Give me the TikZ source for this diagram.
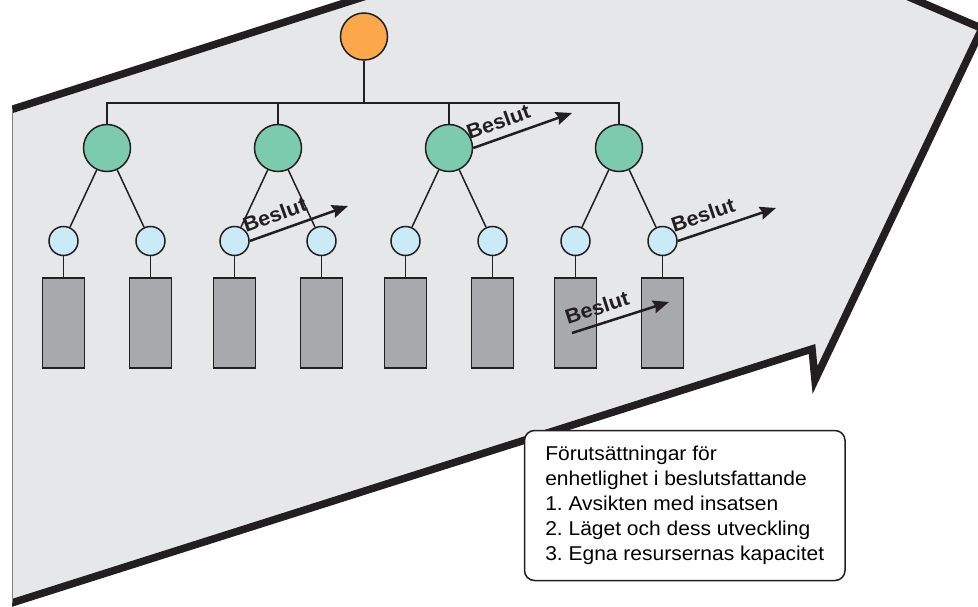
\documentclass[tikz,border=0pt]{standalone}
\usepackage{fontspec}
\setmainfont{Liberation Sans}
\newfontfamily\labelfont[FakeStretch=1.05]{Liberation Sans}
\usetikzlibrary{arrows.meta}

\definecolor{inkdark}{HTML}{231F20}
\definecolor{fieldgrey}{HTML}{E6E7E8}
\definecolor{unitgrey}{HTML}{A7A9AC}
\definecolor{toporange}{HTML}{FAA84B}
\definecolor{midgreen}{HTML}{7DCBAF}
\definecolor{lowblue}{HTML}{CBEAF8}

\tikzset{
  level/.style={circle, draw=inkdark, line width=1.5pt, inner sep=0pt},
  rootnode/.style={level, fill=toporange, minimum size=47pt},
  groupnode/.style={level, fill=midgreen, minimum size=47pt},
  subnode/.style={level, fill=lowblue, minimum size=29pt},
  unitbox/.style={rectangle, draw=inkdark, line width=1.5pt, fill=unitgrey,
                  minimum width=42pt, minimum height=90pt, inner sep=0pt},
  link/.style={draw=inkdark, line width=1.5pt},
  decision/.style={draw=inkdark, line width=2.5pt,
                   -{Stealth[length=16pt, width=13pt, inset=2pt]}},
  decisionlabel/.style={pos=0.31, sloped, above=6pt, inner sep=2pt,
                   text=inkdark, font=\labelfont\bfseries\fontsize{20.5}{20.5}\selectfont},
  infobox/.style={draw=inkdark, line width=1.5pt, fill=white, rounded corners=10pt,
                  align=left, inner xsep=14pt, inner ysep=14pt,
                  minimum width=320.5pt, minimum height=150pt, anchor=north west,
                  font=\labelfont\fontsize{20}{24.9}\selectfont\frenchspacing}
}

\begin{document}
\begin{tikzpicture}[x=1pt, y=-1pt]
\useasboundingbox (0,0) rectangle (978,607);

% the large arrow field
\begin{scope}
  \clip (12,-200) rectangle (1100,800);
  \fill[fieldgrey] (-20,119.6) -- (675.6,-103) -- (982,28.4) -- (815,380)
        -- (812,349) -- (-20,613) -- cycle;
  \draw[inkdark, line width=7.5pt, line join=miter, miter limit=20]
        (-20,119.6) -- (675.6,-103) -- (982,28.4) -- (815,380)
        -- (812,349) -- (-20,613);
\end{scope}
\draw[gray, line width=1pt] (12,109) -- (12,603);

% hierarchy
\node[rootnode] (r) at (364,36.5) {};
\node[groupnode] (g1) at (107,148) {};
\node[groupnode] (g2) at (278,148) {};
\node[groupnode] (g3) at (449,148) {};
\node[groupnode] (g4) at (619,148) {};

\foreach \g/\x [count=\i from 0] in {g1/107, g2/278, g3/449, g4/619} {
  \pgfmathtruncatemacro{\ba}{2*\i+1}
  \pgfmathtruncatemacro{\bb}{2*\i+2}
  \node[subnode] (b\ba) at (\x-43.5,241) {};
  \node[subnode] (b\bb) at (\x+43.5,241) {};
  \node[unitbox] (k\ba) at (\x-43.5,323) {};
  \node[unitbox] (k\bb) at (\x+43.5,323) {};
  \draw[link] (\g) -- (b\ba);
  \draw[link] (\g) -- (b\bb);
  \draw[link] (b\ba) -- (k\ba);
  \draw[link] (b\bb) -- (k\bb);
}

\coordinate (bus) at (364,103);
\draw[link] (r) -- (bus);
\draw[link] (g1.north) |- (bus) -| (g4.north);
\draw[link] (g2.north) -- (g2.north |- bus);
\draw[link] (g3.north) -- (g3.north |- bus);

% decisions
\coordinate (t1) at (572,113);
\coordinate (t2) at (348,206);
\coordinate (t3) at (776,208);
\coordinate (s4) at (572,333);
\coordinate (t4) at (669,302);
\draw[decision] (g3.east) -- (t1) node[decisionlabel] {Beslut};
\draw[decision] (b3.east) -- (t2) node[decisionlabel] {Beslut};
\draw[decision] (b8.east) -- (t3) node[decisionlabel] {Beslut};
\draw[decision] (s4) -- (t4) node[decisionlabel] {Beslut};

% conditions
\node[infobox] (cond) at (523.75,429.75) {Förutsättningar för\\
enhetlighet i beslutsfattande\\
1. Avsikten med insatsen\\
2. Läget och dess utveckling\\
3. Egna resursernas kapacitet};
\end{tikzpicture}
\end{document}
